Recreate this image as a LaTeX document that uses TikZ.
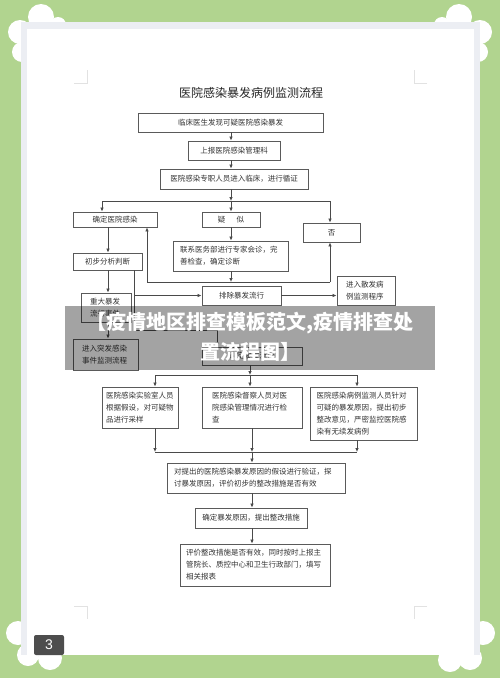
\documentclass[tikz,border=0pt]{standalone}
\usepackage{fontspec}
\newfontfamily\cjk{Noto Sans CJK SC}
\newfontfamily\numfont{Liberation Sans}
\usetikzlibrary{arrows.meta}
\definecolor{bggreen}{HTML}{B1D48F}
\definecolor{pageframe}{HTML}{ECEEF3}
\definecolor{boxgray}{HTML}{5A5A5A}
\definecolor{linegray}{HTML}{4A4A4A}
\definecolor{txt}{HTML}{333333}
\definecolor{cropgray}{HTML}{E2E2E2}
\definecolor{badge}{HTML}{4D4D4D}
\begin{document}
\begin{tikzpicture}[x=1pt,y=-1pt,
  box/.style={draw=boxgray, line width=0.9pt, fill=white, inner sep=0pt,
    font=\cjk\fontsize{7.5}{12}\selectfont, text=txt},
  mbox/.style={box, align=left},
  ln/.style={draw=linegray, line width=0.8pt},
  arr/.style={ln, -{Latex[length=4pt,width=3.6pt]}},
  cloud/.style={fill=white, draw=none},
  crop/.style={draw=cropgray, line width=0.8pt},
]
\useasboundingbox (0,0) rectangle (500,678);
% background
\fill[bggreen] (0,0) rectangle (500,678);
% clouds
\foreach \cx/\cy/\r in {41/17/13, 20/32/12, 58/25/8, 22/52/10,
                        459/17/13, 480/32/12, 442/25/8, 478/52/10,
                        18/633/12, 28/655/11, 50/658/12,
                        483/633/12, 470/658/12, 450/660/12}
  \fill[cloud] (\cx,\cy) circle[radius=\r];
% page
\fill[pageframe] (21,22) rectangle (480,655);
\fill[white] (27,29) rectangle (474,655);
% crop marks
\draw[crop] (74,83) -- (87,83) -- (87,70);
\draw[crop] (427,83) -- (414,83) -- (414,70);
\draw[crop] (74,606) -- (87,606) -- (87,619);
\draw[crop] (427,606) -- (414,606) -- (414,619);

% title
\node[font=\cjk\fontsize{12}{14}\selectfont, text=black!85] (title) at (251,93) {医院感染暴发病例监测流程};

\coordinate (spine) at (231,0);
% boxes
\node[box, minimum width=185pt, minimum height=19pt] (b1) at (230.5,122.5) {临床医生发现可疑医院感染暴发};
\node[box, minimum width=92pt, minimum height=19pt] (b2) at (234,150.5) {上报医院感染管理科};
\node[box, minimum width=148pt, minimum height=20pt] (b3) at (234,179) {医院感染专职人员进入临床，进行循证};
\node[box, minimum width=84pt, minimum height=15pt] (c1) at (115,219.5) {确定医院感染};
\node[box, minimum width=58pt, minimum height=15pt] (c2) at (231,219.5) {疑\hspace{1.5em}似};
\node[box, minimum width=57pt, minimum height=19pt] (c3) at (331.5,232.5) {否};
\node[box, minimum width=69pt, minimum height=17pt] (d1) at (107.5,261.5) {初步分析判断};
\node[mbox, minimum width=115pt, minimum height=30pt, text width=101pt] (d2) at (230.5,256) {联系医务部进行专家会诊，完\\善检查，确定诊断};
\node[box, minimum width=79pt, minimum height=19pt] (e2) at (241.5,295.5) {排除暴发流行};
\node[mbox, minimum width=58pt, minimum height=29pt, text width=40pt] (e3) at (366,290.5) {进入散发病\\例监测程序};
\node[mbox, minimum width=50pt, minimum height=29pt, text width=32pt] (e1) at (106,307.5) {重大暴发\\流行事件};
\node[mbox, minimum width=65pt, minimum height=31pt, text width=47pt] (f1) at (105.5,354.5) {进入突发感染\\事件监测流程};
\node[box, minimum width=100pt, minimum height=18pt] (f2) at (252,356) {确定暴发流行};
\node[mbox, minimum width=76pt, minimum height=41pt, text width=68pt] (g1) at (140,407.5) {医院感染实验室人员\\根据假设，对可疑物\\品进行采样};
\node[mbox, minimum width=100pt, minimum height=41pt, text width=80pt] (g2) at (252,407.5) {医院感染督察人员对医\\院感染管理情况进行检\\查};
\node[mbox, minimum width=107pt, minimum height=53pt, text width=94pt] (g3) at (363.5,413.5) {医院感染病例监测人员针对\\可疑的暴发原因，提出初步\\整改意见，严密监控医院感\\染有无续发病例};
\node[mbox, minimum width=178pt, minimum height=30pt, text width=164pt] (h1) at (256,478) {对提出的医院感染暴发原因的假设进行验证，探\\讨暴发原因，评价初步的整改措施是否有效};
\node[box, minimum width=112pt, minimum height=20pt] (h2) at (251,518) {确定暴发原因，提出整改措施};
\node[mbox, minimum width=150pt, minimum height=42pt, text width=138pt] (h3) at (255,565) {评价整改措施是否有效，同时按时上报主\\管院长、质控中心和卫生行政部门，填写\\相关报表};

% connectors top
\draw[arr] (b1.south -| spine) -- (b2.north -| spine);
\draw[arr] (b2.south -| spine) -- (b3.north -| spine);
\coordinate (j1) at (231,201);
\coordinate (j1l) at (102,201);
\coordinate (j1r) at (330,201);
\draw[arr] (b3.south -| spine) -- (j1);
\draw[ln] (j1l) -- (j1r);
\draw[arr] (j1l) -- (c1.north -| j1l);
\draw[arr] (j1) -- (c2.north);
\draw[arr] (j1r) -- (c3.north -| j1r);
\draw[arr] (c2.south) -- (d2.north -| c2.south);
% feedback
\coordinate (j2) at (231,282);
\coordinate (j2l) at (147,282);
\coordinate (j2r) at (330,282);
\draw[arr] (d2.south -| j2) -- (j2);
\draw[ln] (j2l) -- (j2r);
\draw[arr] (j2l) -- (c1.south -| j2l);
\draw[arr] (j2r) -- (c3.south -| j2r);
% left column
\coordinate (lc) at (108,0);
\draw[arr] (c1.south -| lc) -- (d1.north -| lc);
\draw[arr] (d1.south -| lc) -- (e1.north -| lc);
\draw[arr] (e1.south -| lc) -- (f1.north -| lc);
\coordinate (rc) at (134,0);
\coordinate (k1) at (134,295.5);
\coordinate (k2) at (134,330);
\coordinate (k3) at (217,330);
\draw[ln] (d1.south -| rc) -- (k2) -- (k3);
\draw[arr] (k1) -- (e2.west);
\draw[arr] (k3) -- (f2.north -| k3);
\draw[arr] (e2.east) -- (e3.west |- e2.east);
% distribution
\coordinate (m0) at (250,375);
\coordinate (ml) at (155,375);
\coordinate (mr) at (357,375);
\draw[arr] (f2.south -| m0) -- (m0);
\draw[ln] (ml) -- (mr);
\draw[arr] (ml) -- (g1.north -| ml);
\draw[arr] (m0) -- (g2.north -| m0);
\draw[arr] (mr) -- (g3.north -| mr);
% gather
\coordinate (n0) at (252,452);
\coordinate (nl) at (155,452);
\coordinate (nr) at (357,452);
\draw[ln] (nl) -- (nr);
\draw[arr] (g1.south -| nl) -- (nl);
\draw[arr] (g2.south -| n0) -- (n0);
\draw[arr] (g3.south -| nr) -- (nr);
\draw[arr] (n0) -- (h1.north -| n0);
\draw[arr] (h1.south -| n0) -- (h2.north -| n0);
\draw[arr] (h2.south -| n0) -- (h3.north -| n0);

% overlay banner
\fill[black, opacity=0.36] (65,306) rectangle (435,370);
\node[font=\cjk\bfseries\fontsize{20}{22}\selectfont, text=white] (ban1) at (250,323) {【疫情地区排查模板范文,疫情排查处};
\node[font=\cjk\bfseries\fontsize{20}{22}\selectfont, text=white] (ban2) at (250,352) {置流程图】};

% page badge
\fill[badge, rounded corners=2pt] (34,635) rectangle (64,655);
\node[font=\numfont\fontsize{14}{14}\selectfont, text=white] (pg) at (49,645) {3};
\end{tikzpicture}
\end{document}
